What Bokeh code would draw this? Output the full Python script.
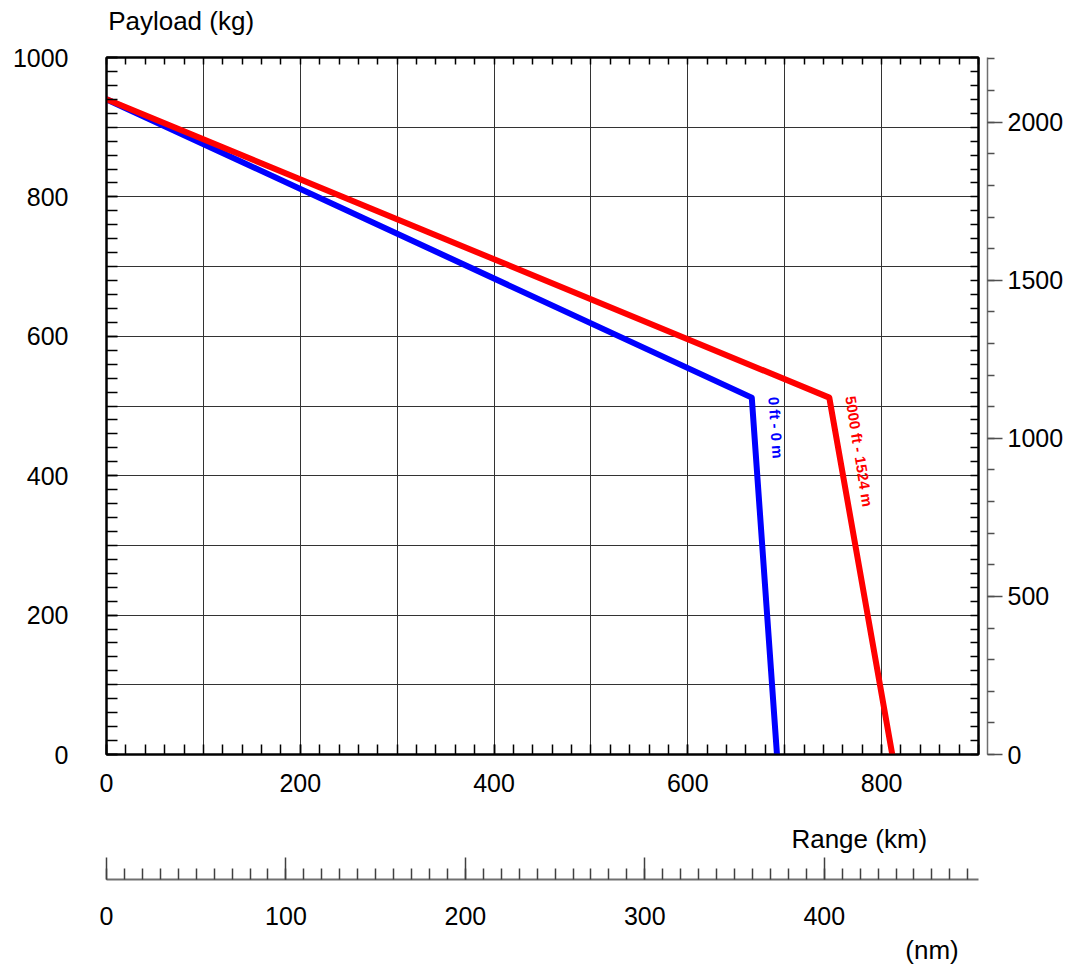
import math
from bokeh.plotting import figure
from bokeh.models import LinearAxis, Range1d, FixedTicker, Label
from bokeh.embed import file_html
from bokeh.resources import INLINE

# ---------------- data ----------------
range_km_sea_level = [0, 666, 692]
payload_kg_sea_level = [940, 512, 0]
range_km_5000ft = [0, 746, 811]
payload_kg_5000ft = [940, 512, 0]

kg_ticks = [0, 200, 400, 600, 800, 1000]
km_ticks = [0, 200, 400, 600, 800]
lb_ticks = [0, 500, 1000, 1500, 2000]
nm_ticks = [0, 100, 200, 300, 400]

label_sea_level = "0 ft - 0 m"
label_5000ft = "5000 ft - 1524 m"

KG_TO_LB = 2.20462
KM_TO_NM = 1 / 1.852
X_MAX = 900
Y_MAX = 1000

FONT = "Liberation Sans"
FS = "25px"
FS_TITLE = "26px"

W, H = 1068, 967
FRAME_L, FRAME_T, FRAME_R, FRAME_B = 106, 57, 978, 754

p = figure(width=W, height=H, x_range=Range1d(0, X_MAX), y_range=Range1d(0, Y_MAX),
           output_backend="svg", toolbar_location=None,
           min_border_left=FRAME_L, min_border_top=FRAME_T,
           min_border_right=W - FRAME_R, min_border_bottom=H - FRAME_B)
p.background_fill_color = "white"
p.border_fill_color = "white"
p.outline_line_color = "black"
p.outline_line_width = 2

# grid
p.xgrid.ticker = FixedTicker(ticks=list(range(0, X_MAX + 1, 100)))
p.ygrid.ticker = FixedTicker(ticks=list(range(0, Y_MAX + 1, 100)))
p.grid.grid_line_color = "#333333"
p.grid.grid_line_width = 1


def style_labels(ax, size=FS):
    ax.major_label_text_font = FONT
    ax.major_label_text_font_size = size
    ax.major_label_text_color = "black"


def text_axis(ticks, texts, standoff, tick_out=0, size=FS_TITLE, **kw):
    """An axis with invisible tick marks that only carries text (or spacing)."""
    ax = LinearAxis(ticker=FixedTicker(ticks=ticks),
                    major_label_overrides=dict(zip(ticks, texts)),
                    axis_line_color=None, major_tick_line_color=None,
                    major_tick_in=0, major_tick_out=tick_out,
                    minor_tick_in=0, minor_tick_out=0,
                    major_label_standoff=standoff, **kw)
    style_labels(ax, size)
    return ax


# left kg axis
ya = p.yaxis[0]
ya.ticker = FixedTicker(ticks=kg_ticks, minor_ticks=list(range(0, Y_MAX + 1, 20)))
ya.major_tick_in = 11
ya.major_tick_out = 0
ya.minor_tick_in = 11
ya.minor_tick_out = 0
ya.major_label_standoff = 38
ya.axis_line_width = 2
ya.axis_line_color = "black"
ya.major_tick_line_color = "black"
ya.minor_tick_line_color = "black"
ya.major_tick_line_width = 1.5
ya.minor_tick_line_width = 1.5
style_labels(ya)

# bottom km axis
xa = p.xaxis[0]
xa.ticker = FixedTicker(ticks=km_ticks, minor_ticks=list(range(0, X_MAX + 1, 20)))
xa.major_tick_in = 10
xa.major_tick_out = 0
xa.minor_tick_in = 10
xa.minor_tick_out = 0
xa.major_label_standoff = 19
xa.axis_line_width = 2
xa.axis_line_color = "black"
xa.major_tick_line_color = "black"
xa.minor_tick_line_color = "black"
xa.major_tick_line_width = 1.5
xa.minor_tick_line_width = 1.5
style_labels(xa)

# top inward ticks
top = LinearAxis(ticker=FixedTicker(ticks=[], minor_ticks=list(range(0, X_MAX + 1, 20))),
                 major_tick_out=0, major_tick_in=0, minor_tick_in=7, minor_tick_out=0,
                 major_label_standoff=0, axis_line_width=2, axis_line_color="black",
                 minor_tick_line_color="black", minor_tick_line_width=1.5)
p.add_layout(top, "above")

# top titles: "Payload (kg)" and "(lb)"
top_titles = text_axis([77, 935], ["Payload (kg)", "(lb)"], standoff=22, bounds=(36, 936))
p.add_layout(top_titles, "above")

# right inward kg ticks, plus 9px gap before the lb axis
r1 = LinearAxis(ticker=FixedTicker(ticks=[0], minor_ticks=list(range(0, Y_MAX + 1, 20))),
                major_label_overrides={0: ""},
                major_tick_out=9, major_tick_in=0, major_tick_line_color=None,
                minor_tick_in=8, minor_tick_out=0,
                major_label_standoff=0, axis_line_width=2, axis_line_color="black",
                minor_tick_line_color="black", minor_tick_line_width=1.5)
style_labels(r1, "1px")
p.add_layout(r1, "right")

# lb axis
p.extra_y_ranges = {"lb": Range1d(0, Y_MAX * KG_TO_LB)}
r2 = LinearAxis(y_range_name="lb",
                ticker=FixedTicker(ticks=lb_ticks, minor_ticks=list(range(0, 2201, 100))),
                major_tick_out=15, major_tick_in=0, minor_tick_out=7, minor_tick_in=0,
                major_label_standoff=5, axis_line_color="#707070", axis_line_width=1.5,
                major_tick_line_color="#505050", minor_tick_line_color="#505050",
                major_tick_line_width=1.5, minor_tick_line_width=1.5)
style_labels(r2)
p.add_layout(r2, "right")

# "Range (km)" title below km labels
p.add_layout(text_axis([777], ["Range (km)"], standoff=29), "below")
# spacing before the nm scale
p.add_layout(text_axis([0], [""], standoff=0, tick_out=23, size="1px"), "below")

# nm axis
p.extra_x_ranges = {"nm": Range1d(0, X_MAX * KM_TO_NM)}
nm = LinearAxis(x_range_name="nm",
                ticker=FixedTicker(ticks=nm_ticks, minor_ticks=list(range(0, 486, 10))),
                major_tick_in=22, major_tick_out=0, minor_tick_in=11, minor_tick_out=0,
                major_label_standoff=27, axis_line_color="#707070", axis_line_width=2,
                major_tick_line_color="#404040", minor_tick_line_color="#404040",
                major_tick_line_width=1.5, minor_tick_line_width=1.5)
style_labels(nm)
p.add_layout(nm, "below")

# "(nm)" title
p.add_layout(text_axis([852], ["(nm)"], standoff=7), "below")

# curves
p.line(range_km_sea_level, payload_kg_sea_level, line_color="#0000ff", line_width=6,
       line_join="round", line_cap="round")
p.line(range_km_5000ft, payload_kg_5000ft, line_color="#ff0000", line_width=6,
       line_join="round", line_cap="round")

# curve labels
p.add_layout(Label(x=691, y=469, text=label_sea_level, angle=math.radians(-86),
                   text_font=FONT, text_font_size="15px", text_font_style="bold",
                   text_color="#0000ff", text_align="center", text_baseline="middle"))
p.add_layout(Label(x=777, y=435, text=label_5000ft, angle=math.radians(-81),
                   text_font=FONT, text_font_size="15px", text_font_style="bold",
                   text_color="#ff0000", text_align="center", text_baseline="middle"))

open("out.html", "w").write(file_html(p, INLINE))
